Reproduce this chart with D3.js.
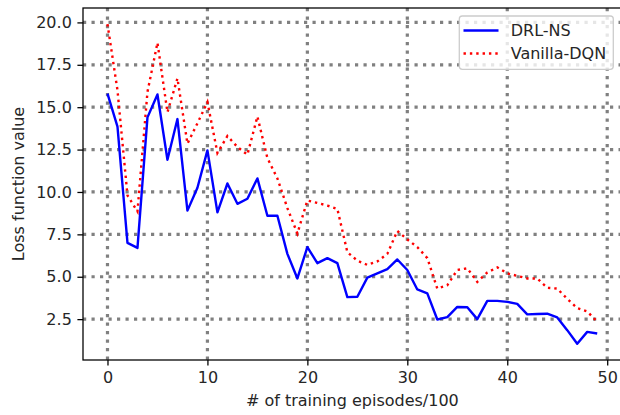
<!DOCTYPE html>
<html>
<head>
<meta charset="utf-8">
<script src="https://cdn.jsdelivr.net/npm/d3@7"></script>
<style>
  html, body { margin: 0; padding: 0; background: #fff; }
  svg { display: block; font-family: "DejaVu Sans", sans-serif; }
</style>
</head>
<body>
<svg id="chart" width="620" height="415"></svg>
<script>
const episodes = d3.range(0, 50);
const drlNS = [15.8, 13.85, 7.0, 6.7, 14.4, 15.75, 11.9, 14.3, 8.9, 10.25,
  12.45, 8.8, 10.5, 9.3, 9.6, 10.8, 8.6, 8.6, 6.35, 4.9,
  6.75, 5.8, 6.1, 5.8, 3.8, 3.82, 4.95, 5.2, 5.45, 6.02,
  5.4, 4.25, 4.02, 2.48, 2.62, 3.22, 3.2, 2.5, 3.58, 3.58,
  3.52, 3.4, 2.78, 2.8, 2.82, 2.6, 1.85, 1.05, 1.75, 1.65];
const vanillaDQN = [19.9, 16.0, 9.8, 8.85, 15.9, 18.8, 14.7, 16.7, 12.85, 14.05,
  15.3, 12.3, 13.3, 12.65, 12.2, 14.45, 12.0, 10.8, 9.05, 7.55,
  9.5, 9.35, 9.2, 9.0, 6.45, 5.95, 5.7, 5.9, 6.35, 7.7,
  7.2, 6.75, 6.1, 4.3, 4.5, 5.4, 5.5, 4.7, 5.25, 5.55,
  5.2, 5.05, 4.9, 4.9, 4.35, 4.3, 3.7, 3.15, 2.95, 2.35];
const xTicks = [0, 10, 20, 30, 40, 50];
const yTicks = [2.5, 5.0, 7.5, 10.0, 12.5, 15.0, 17.5, 20.0];
const seriesNames = ["DRL-NS", "Vanilla-DQN"];

const svg = d3.select("#chart");
const L = 83, R = 621.7, T = 8, B = 360;
const x = d3.scaleLinear().domain([-2.45, 51.45]).range([L, R]);
const y = d3.scaleLinear().domain([0.09, 20.85]).range([B, T]);

// grid
const grid = svg.append("g");
grid.selectAll("line.gx").data(xTicks).join("line")
  .attr("x1", d => x(d)).attr("x2", d => x(d)).attr("y1", T).attr("y2", B)
  .attr("stroke", "#808080").attr("stroke-width", 3.2).attr("stroke-dasharray", "3.2,5.3");
grid.selectAll("line.gy").data(yTicks).join("line")
  .attr("y1", d => y(d)).attr("y2", d => y(d)).attr("x1", L).attr("x2", R)
  .attr("stroke", "#808080").attr("stroke-width", 3.2).attr("stroke-dasharray", "3.2,5.3");

// lines
const line = d3.line().x((d, i) => x(episodes[i])).y(d => y(d));
svg.append("path").datum(vanillaDQN).attr("d", line)
  .attr("fill", "none").attr("stroke", "red").attr("stroke-width", 2.4)
  .attr("stroke-dasharray", "2.4,3.96");
svg.append("path").datum(drlNS).attr("d", line)
  .attr("fill", "none").attr("stroke", "blue").attr("stroke-width", 2.4)
  .attr("stroke-linejoin", "round");

// spines
svg.append("rect").attr("x", L).attr("y", T).attr("width", R - L).attr("height", B - T)
  .attr("fill", "none").attr("stroke", "#000").attr("stroke-width", 1.28);

// axes
const xAxis = d3.axisBottom(x).tickValues(xTicks).tickSize(5.6).tickPadding(5.6).tickFormat(d3.format("d"));
const gx = svg.append("g").attr("transform", `translate(0,${B})`).call(xAxis);
const yAxis = d3.axisLeft(y).tickValues(yTicks).tickSize(5.6).tickPadding(5.6).tickFormat(d3.format(".1f"));
const gy = svg.append("g").attr("transform", `translate(${L},0)`).call(yAxis);
[gx, gy].forEach(g => {
  g.select(".domain").remove();
  g.selectAll(".tick line").attr("stroke", "#000").attr("stroke-width", 1.28);
  g.selectAll(".tick text").attr("fill", "#262626").style("font-size", "16px")
    .style("font-family", "DejaVu Sans");
});

// labels
svg.append("text").attr("x", (L + R) / 2).attr("y", 406).attr("text-anchor", "middle")
  .style("font-size", "16px").attr("fill", "#262626").text("# of training episodes/100");
svg.append("text").attr("transform", `translate(24,${(T + B) / 2}) rotate(-90)`)
  .attr("text-anchor", "middle").style("font-size", "16px").attr("fill", "#262626")
  .text("Loss function value");

// legend
const lg = svg.append("g");
lg.append("rect").attr("x", 459.3).attr("y", 16).attr("width", 154).attr("height", 53.3)
  .attr("rx", 3).attr("fill", "rgba(255,255,255,0.8)").attr("stroke", "#cccccc").attr("stroke-width", 1.28);
const items = [
  { name: seriesNames[0], color: "blue", dash: null, cy: 30.5 },
  { name: seriesNames[1], color: "red", dash: "2.4,3.96", cy: 53.5 }
];
items.forEach(it => {
  lg.append("line").attr("x1", 463.5).attr("x2", 498.5).attr("y1", it.cy).attr("y2", it.cy)
    .attr("stroke", it.color).attr("stroke-width", 2.4).attr("stroke-dasharray", it.dash);
  lg.append("text").attr("x", 510.7).attr("y", it.cy + 5.8).style("font-size", "16px")
    .attr("fill", "#262626").text(it.name);
});
</script>
</body>
</html>
